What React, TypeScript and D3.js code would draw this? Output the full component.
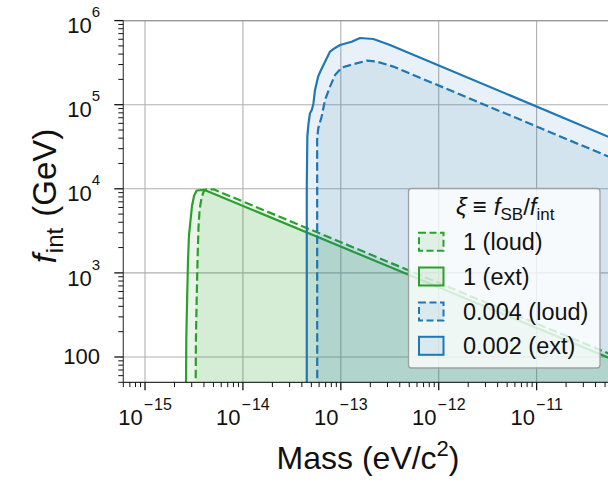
import React from "react";
import * as d3 from "d3";

// ---- data ----
const xDomain: [number, number] = [6e-16, 6e-11];
const yDomain: [number, number] = [50, 1e6];

const greenExtMass = [2.62e-15, 2.64e-15, 2.69e-15, 2.75e-15, 2.81e-15, 2.92e-15, 3.02e-15, 3.17e-15, 3.37e-15, 4.01e-15, 6.5e-11];
const greenExtF = [40, 161, 481, 1436, 2767, 4285, 6281, 8260, 9550, 9727, 89.8];

const greenLoudMass = [3.29e-15, 3.31e-15, 3.37e-15, 3.44e-15, 3.52e-15, 3.61e-15, 3.78e-15, 3.96e-15, 4.2e-15, 5.01e-15, 6.5e-11];
const greenLoudF = [40, 161, 481, 1436, 3540, 5623, 7816, 9204, 9863, 9863, 101];

const blueExtMass = [4.49e-14, 4.49e-14, 4.55e-14, 4.66e-14, 4.84e-14, 5.05e-14, 5.24e-14, 5.45e-14, 5.85e-14, 6.14e-14, 6.9e-14, 7.76e-14, 8.73e-14, 9.82e-14, 1.29e-13, 1.57e-13, 2.15e-13, 3.18e-13, 6.5e-11];
const blueExtF = [40, 10640, 41780, 57540, 79250, 86700, 1.02e5, 1.5e5, 2.14e5, 2.45e5, 3.25e5, 4.28e5, 4.73e5, 5.13e5, 5.61e5, 6.21e5, 6.04e5, 5.13e5, 3.8e4];

const blueLoudMass = [5.74e-14, 5.73e-14, 5.78e-14, 5.89e-14, 6.37e-14, 6.9e-14, 7.76e-14, 8.73e-14, 1.02e-13, 1.34e-13, 1.84e-13, 2.33e-13, 3.44e-13, 6.5e-11];
const blueLoudF = [40, 3.82e4, 4.38e4, 5.26e4, 7.23e4, 1.14e5, 1.64e5, 2.26e5, 2.76e5, 3.03e5, 3.34e5, 3.25e5, 2.84e5, 2.21e4];

const seriesLabels = ["1 (loud)", "1 (ext)", "0.004 (loud)", "0.002 (ext)"];
const seriesColors = ["#2ca02c", "#2ca02c", "#1f77b4", "#1f77b4"];
const seriesDashed = [true, false, true, false];

const xMajorExps = [-15, -14, -13, -12, -11];
const yMajorExps = [2, 3, 4, 5, 6];

// ---- layout ----
const W = 608;
const H = 483;
const left = 123.3;
const right = 612.8;
const top = 20.6;
const bottom = 382.3;
const FONT = "'Liberation Sans', Arial, Helvetica, sans-serif";

export default function App() {
  const x = d3.scaleLog().domain(xDomain).range([left, right]);
  const y = d3.scaleLog().domain(yDomain).range([bottom, top]);

  const series = [
    { m: greenLoudMass, f: greenLoudF },
    { m: greenExtMass, f: greenExtF },
    { m: blueLoudMass, f: blueLoudF },
    { m: blueExtMass, f: blueExtF },
  ].map((s, i) => ({
    pts: s.m.map((mv, j) => [mv, s.f[j]] as [number, number]),
    color: seriesColors[i],
    dashed: seriesDashed[i],
    label: seriesLabels[i],
  }));

  const line = d3
    .line<[number, number]>()
    .x((d) => x(d[0]))
    .y((d) => y(d[1]));
  const area = d3
    .area<[number, number]>()
    .x((d) => x(d[0]))
    .y0(bottom + 20)
    .y1((d) => y(d[1]));

  const xMinor: number[] = [];
  for (let e = -16; e <= -11; e++) {
    for (let k = 2; k <= 9; k++) {
      const v = k * Math.pow(10, e);
      if (v >= xDomain[0] && v <= xDomain[1]) xMinor.push(v);
    }
  }
  const yMinor: number[] = [];
  for (let e = 1; e <= 5; e++) {
    for (let k = 2; k <= 9; k++) {
      const v = k * Math.pow(10, e);
      if (v >= yDomain[0] && v <= yDomain[1]) yMinor.push(v);
    }
  }

  const dash = "8.5,3.7";
  const lw = 2.2;

  // legend geometry
  const lgX = 408.5;
  const lgY = 188.5;
  const lgW = 191.5;
  const lgH = 179.5;
  const rowY = [241.7, 276.5, 311.5, 345.8];

  return (
    <svg
      width={W}
      height={H}
      style={{ position: "absolute", left: 0, top: 0, background: "#fff" }}
      fontFamily={FONT}
    >
      <defs>
        <clipPath id="plotclip">
          <rect x={left} y={top} width={right - left} height={bottom - top} />
        </clipPath>
      </defs>
      <rect x={0} y={0} width={W} height={H} fill="#fff" />

      {/* grid */}
      <g stroke="#b0b0b0" strokeWidth={1.1}>
        {xMajorExps.map((e) => (
          <line key={"gx" + e} x1={x(Math.pow(10, e))} x2={x(Math.pow(10, e))} y1={top} y2={bottom} />
        ))}
        {yMajorExps.map((e) => (
          <line key={"gy" + e} x1={left} x2={right} y1={y(Math.pow(10, e))} y2={y(Math.pow(10, e))} />
        ))}
      </g>

      {/* fills and lines */}
      <g clipPath="url(#plotclip)">
        {series.map((s, i) => (
          <g key={"s" + i}>
            <path d={area(s.pts) || ""} fill={s.color} fillOpacity={0.1} stroke="none" />
            <path
              d={line(s.pts) || ""}
              fill="none"
              stroke={s.color}
              strokeWidth={lw}
              strokeDasharray={s.dashed ? dash : undefined}
              strokeLinejoin="round"
            />
          </g>
        ))}
      </g>

      {/* spines */}
      <line x1={left} x2={right} y1={top} y2={top} stroke="#999" strokeWidth={1.3} />
      <line x1={left} x2={left} y1={top} y2={bottom} stroke="#555" strokeWidth={1.3} />
      <line x1={left} x2={right} y1={bottom} y2={bottom} stroke="#333" strokeWidth={1.3} />

      {/* ticks */}
      <g stroke="#111">
        {xMajorExps.map((e) => (
          <line key={"xt" + e} x1={x(Math.pow(10, e))} x2={x(Math.pow(10, e))} y1={bottom} y2={bottom + 8} strokeWidth={1.3} />
        ))}
        {xMinor.map((v, i) => (
          <line key={"xm" + i} x1={x(v)} x2={x(v)} y1={bottom} y2={bottom + 4.8} strokeWidth={1} />
        ))}
        {yMajorExps.map((e) => (
          <line key={"yt" + e} x1={left - 9} x2={left} y1={y(Math.pow(10, e))} y2={y(Math.pow(10, e))} strokeWidth={1.3} />
        ))}
        {yMinor.map((v, i) => (
          <line key={"ym" + i} x1={left - 5} x2={left} y1={y(v)} y2={y(v)} strokeWidth={1} />
        ))}
      </g>

      {/* x tick labels */}
      <g fill="#111" fontSize={22}>
        {xMajorExps.map((e) => (
          <text key={"xl" + e} x={x(Math.pow(10, e))} y={425} textAnchor="middle">
            <tspan>10</tspan>
            <tspan fontSize={16} dy={-15} dx={1}>{"\u2212"}</tspan>
            <tspan fontSize={16} dx={1}>{String(Math.abs(e))}</tspan>
          </text>
        ))}
      </g>

      {/* y tick labels */}
      <g fill="#111" fontSize={22}>
        {yMajorExps.map((e) =>
          e === 2 ? (
            <text key={"yl" + e} x={100} y={y(100) + 7} textAnchor="end">
              100
            </text>
          ) : (
            <text key={"yl" + e} x={100} y={y(Math.pow(10, e)) + 12.7} textAnchor="end">
              <tspan>10</tspan>
              <tspan fontSize={15} dy={-16}>{String(e)}</tspan>
            </text>
          )
        )}
      </g>

      {/* axis titles */}
      <text x={(left + right) / 2} y={469} textAnchor="middle" fontSize={32} fill="#111">
        <tspan>Mass (eV/c</tspan>
        <tspan fontSize={22} dy={-13}>2</tspan>
        <tspan dy={13}>)</tspan>
      </text>
      <text
        transform={`translate(56, 196) rotate(-90)`}
        textAnchor="middle"
        fontSize={33}
        fill="#111"
      >
        <tspan fontStyle="italic">f</tspan>
        <tspan fontSize={24} dy={7} dx={1}>int</tspan>
        <tspan dy={-7} dx={2}> (GeV)</tspan>
      </text>

      {/* legend */}
      <g>
        <rect x={lgX} y={lgY} width={lgW} height={lgH} rx={3} fill="#fff" fillOpacity={0.8} stroke="#a0a0a0" strokeWidth={1.3} />
        <text x={lgX + lgW / 2 + 1} y={215} textAnchor="middle" fontSize={24} fill="#111">
          <tspan fontStyle="italic">ξ</tspan>
          <tspan dx={6}>≡</tspan>
          <tspan dx={7} fontStyle="italic">f</tspan>
          <tspan fontSize={17} dy={5}>SB</tspan>
          <tspan dy={-5}>/</tspan>
          <tspan fontStyle="italic">f</tspan>
          <tspan fontSize={17} dy={5}>int</tspan>
        </text>
        {series.map((s, i) => (
          <g key={"lg" + i}>
            <rect
              x={419}
              y={rowY[i] - 9}
              width={24.5}
              height={18}
              fill={s.color}
              fillOpacity={0.1}
              stroke={s.color}
              strokeWidth={2}
              strokeDasharray={s.dashed ? "7,3.5" : undefined}
            />
            <text x={463} y={rowY[i] + 8.5} fontSize={23.5} fill="#111">
              {s.label}
            </text>
          </g>
        ))}
      </g>
    </svg>
  );
}
